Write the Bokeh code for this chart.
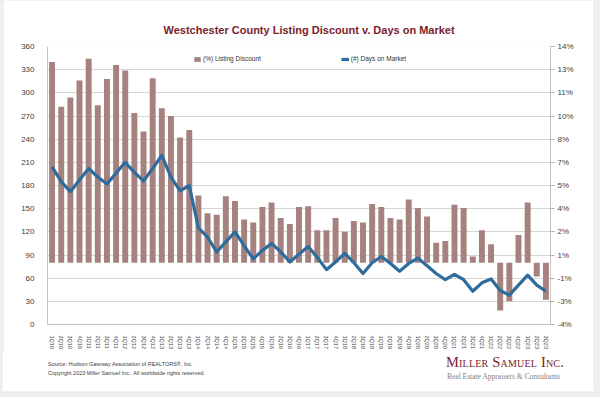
from bokeh.plotting import figure
from bokeh.models import (Range1d, LinearAxis, FixedTicker, Legend, LegendItem,
                          FactorRange, Title, Div)
from bokeh.layouts import column
from bokeh.embed import file_html
from bokeh.resources import INLINE

# ---- data ----
quarters = [f"{q}Q{y:02d}" for y in range(10, 24) for q in range(1, 5)][:55]

discount_pct = [13.0, 10.1, 10.7, 11.8, 13.2, 10.2, 11.9, 12.8, 12.45, 9.7, 8.5, 11.95,
                10.0, 9.5, 8.1, 8.6,
                4.35, 3.2, 3.1, 4.3, 4.0, 2.8, 2.6, 3.6, 3.9, 2.9, 2.5, 3.6, 3.65, 2.1,
                2.1, 2.9, 2.0, 2.7, 2.6, 3.8,
                3.6, 2.9, 2.8, 4.1, 3.55, 3.0, 1.3, 1.4, 3.75, 3.55, 0.4, 2.1, 1.2, -3.1,
                -2.5, 1.8, 3.9, -0.9, -2.4]

days_on_market = [204, 185, 172, 187, 202, 191, 182, 196, 210, 197, 186, 202, 219, 191,
                  173, 180,
                  125, 113, 94, 107, 120, 102, 85, 96, 105, 94, 81, 91, 101, 87, 71, 81,
                  92, 80, 66, 80,
                  88, 79, 69, 79, 86, 76, 66, 58, 65, 58, 43, 54, 59, 44, 38, 51, 64,
                  51, 43]

left_ticks = [0, 30, 60, 90, 120, 150, 180, 210, 240, 270, 300, 330, 360]
right_ticks = [-4, -2.5, -1, 0.5, 2, 3.5, 5, 6.5, 8, 9.5, 11, 12.5, 14]
right_labels = ["-4%", "-3%", "-1%", "1%", "2%", "4%", "5%", "7%", "8%", "10%",
                "11%", "13%", "14%"]

footer_lines = ["Source: Hudson Gateway Association of REALTORS®, Inc.",
                "Copyright 2023 Miller Samuel Inc.. All worldwide rights reserved."]
brand_lines = ["Miller Samuel Inc.", "Real Estate Appraisers &amp; Consultants"]

BAR = "#a6827f"
LINE = "#2e6c9c"
DARKRED = "#7a1e2c"
FONT = "Liberation Sans"
SERIF = "Liberation Serif"

p = figure(width=590, height=352,
           x_range=FactorRange(factors=quarters, range_padding=0),
           y_range=Range1d(0, 360),
           output_backend="svg", toolbar_location=None,
           min_border_left=44, min_border_right=43,
           min_border_top=46, min_border_bottom=28)
p.extra_y_ranges = {"pct": Range1d(-4, 14)}
p.outline_line_color = None
p.background_fill_color = "white"
p.border_fill_color = "white"

p.title = Title(text="Westchester County Listing Discount v. Days on Market",
                align="left", offset=116, standoff=22,
                text_font=FONT, text_font_size="11px", text_font_style="bold",
                text_color=DARKRED)

bars = p.vbar(x=quarters, top=discount_pct, bottom=0, width=0.65,
              y_range_name="pct", fill_color=BAR, line_color=None)
line = p.line(x=quarters, y=days_on_market, line_width=3.2, line_color=LINE,
              line_join="round")

# left axis
la = p.yaxis[0]
la.ticker = FixedTicker(ticks=left_ticks)
la.major_tick_line_color = None
la.minor_tick_line_color = None
la.axis_line_color = "#c4c4c4"
la.major_label_standoff = 7
la.major_label_text_font = FONT
la.major_label_text_font_size = "8px"
la.major_label_text_color = "#404040"

# right axis
ra = LinearAxis(y_range_name="pct", ticker=FixedTicker(ticks=right_ticks),
                major_label_overrides=dict(zip(right_ticks, right_labels)))
ra.major_tick_line_color = "#b0b0b0"
ra.major_tick_in = 0
ra.major_tick_out = 4
ra.minor_tick_line_color = None
ra.axis_line_color = "#c4c4c4"
ra.major_label_standoff = 3
ra.major_label_text_font = FONT
ra.major_label_text_font_size = "8px"
ra.major_label_text_color = "#404040"
p.add_layout(ra, "right")

# x axis
xa = p.xaxis[0]
xa.major_label_orientation = "vertical"
xa.major_label_text_font = FONT
xa.major_label_text_font_size = "5.5px"
xa.major_label_text_color = "#404040"
xa.major_tick_line_color = None
xa.minor_tick_line_color = None
xa.axis_line_color = "#c4c4c4"
xa.major_label_standoff = 5

p.xgrid.visible = False
p.ygrid.ticker = FixedTicker(ticks=left_ticks)
p.ygrid.grid_line_color = "#d6d6d6"

legend = Legend(items=[LegendItem(label="(%) Listing Discount", renderers=[bars]),
                       LegendItem(label="(#) Days on Market", renderers=[line])],
                orientation="horizontal", location=(146, 262),
                border_line_color=None, background_fill_alpha=0,
                padding=0, margin=0, spacing=80, glyph_width=8, glyph_height=6,
                label_standoff=2, label_height=6, label_text_font=FONT,
                label_text_font_size="6.5px", label_text_color="#333333")
p.add_layout(legend)

# footer (window y 352..391, x offset 3)
footer_html = f"""
<div style="position:relative;width:590px;height:39px;background:white;overflow:hidden;">
  <div style="position:absolute;left:45px;top:9px;font-family:'{FONT}';font-size:5.5px;
              line-height:6px;color:#404040;white-space:nowrap;">{footer_lines[0]}</div>
  <div style="position:absolute;left:45px;top:18px;font-family:'{FONT}';font-size:5.5px;
              line-height:6px;color:#404040;white-space:nowrap;">{footer_lines[1]}</div>
  <div style="position:absolute;left:443px;top:2px;font-family:'{SERIF}';font-size:14.5px;
              line-height:16px;color:{DARKRED};font-variant:small-caps;letter-spacing:0.2px;
              white-space:nowrap;">{brand_lines[0]}</div>
  <div style="position:absolute;left:444px;top:21px;font-family:'{SERIF}';font-size:7.5px;
              line-height:8px;color:#808080;white-space:nowrap;">{brand_lines[1]}</div>
</div>
"""
footer = Div(text=footer_html, width=590, height=39,
             styles={"background-color": "white", "margin": "0", "padding": "0"})

layout = column(p, footer, spacing=0,
                styles={"background-color": "#efefef",
                        "padding": "0px 7px 6px 3px"})

open("out.html", "w").write(file_html(layout, INLINE))
